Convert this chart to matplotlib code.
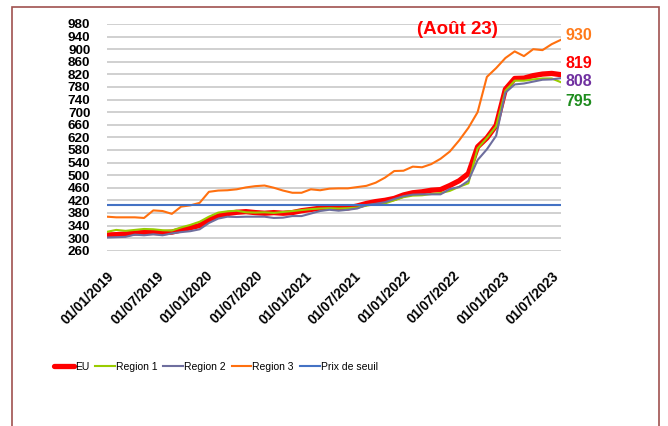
import matplotlib
matplotlib.use("Agg")
import matplotlib.pyplot as plt
from matplotlib.patches import Rectangle
import numpy as np

# ---- data ----
tick_labels = ["01/01/2019", "01/07/2019", "01/01/2020", "01/07/2020", "01/01/2021",
               "01/07/2021", "01/01/2022", "01/07/2022", "01/01/2023", "01/07/2023"]

eu = [310, 311, 313, 316, 318, 318, 317, 319, 326, 333,
      340, 358, 370, 378, 382, 384, 381, 379, 381, 379,
      381, 387, 391, 395, 400, 395, 396, 402, 410, 416,
      420, 426, 437, 444, 447, 452, 454, 467, 482, 505,
      590, 618, 658, 773, 807, 808, 816, 821, 823, 819]
region1 = [320, 326, 323, 326, 329, 328, 325, 324, 334, 342,
           352, 368, 381, 385, 387, 382, 381, 382, 380, 383,
           386, 389, 392, 394, 395, 394, 395, 397, 403, 408,
           410, 420, 430, 435, 436, 440, 443, 450, 463, 474,
           585, 618, 655, 768, 800, 800, 804, 807, 807, 795]
region2 = [302, 303, 304, 311, 309, 312, 309, 315, 319, 322,
           328, 348, 362, 368, 367, 368, 368, 368, 364, 365,
           370, 370, 378, 386, 390, 387, 390, 394, 405, 409,
           414, 424, 433, 438, 439, 439, 439, 456, 462, 482,
           548, 582, 625, 762, 788, 791, 797, 803, 804, 808]
region3 = [368, 366, 366, 366, 364, 388, 386, 377, 400, 404,
           412, 447, 451, 452, 455, 461, 465, 467, 460, 451,
           444, 444, 455, 452, 457, 458, 458, 462, 466, 476,
           492, 513, 514, 527, 525, 535, 552, 575, 610, 650,
           700, 812, 840, 872, 893, 878, 900, 897, 916, 930]
seuil = [406] * len(eu)

end_labels = ["930", "819", "808", "795"]
title_note = "(Août 23)"

# ---- figure ----
W, H = 668, 426
fig = plt.figure(figsize=(W / 100, H / 100), dpi=100)
fig.patch.set_facecolor("white")

ax = fig.add_axes([107 / W, 1 - 250.7 / H, (561 - 107) / W, (250.7 - 24) / H])
x = np.arange(len(eu))

ax.plot(x, eu, color="#FF0000", lw=3.8, solid_capstyle="round", zorder=3, label="EU")
ax.plot(x, region1, color="#99CC00", lw=1.5, zorder=4, label="Region 1")
ax.plot(x, region2, color="#6E6E9E", lw=1.5, zorder=5, label="Region 2")
ax.plot(x, region3, color="#FF700F", lw=1.5, zorder=6, label="Region 3")
ax.plot(x, seuil, color="#4472C4", lw=1.5, zorder=7, label="Prix de seuil")

ax.set_xlim(0, len(eu) - 1)
ax.set_ylim(260, 980)
ax.set_yticks(np.arange(260, 981, 40))
ax.grid(axis="y", color="#D0D0D0", lw=1.4, zorder=0)
ax.set_axisbelow(True)
for s in ax.spines.values():
    s.set_visible(False)
ax.tick_params(axis="both", length=0)
ax.tick_params(axis="y", pad=12)
for lab in ax.get_yticklabels():
    lab.set_fontfamily("Liberation Sans")
    lab.set_fontweight("bold")
    lab.set_fontsize(9.7)

# date labels every six months (spacing on the category index)
tick_pos = np.arange(len(tick_labels)) * 48 / 9
ax.set_xticks(tick_pos)
ax.set_xticklabels(tick_labels, rotation=45, ha="right",
                   rotation_mode="anchor", fontfamily="Liberation Sans",
                   fontweight="bold", fontsize=9.8)
ax.tick_params(axis="x", pad=13)

# annotations
fig.text(457 / W, 1 - 30 / H, title_note, color="#FF0000", fontsize=13.5,
         fontweight="bold", fontfamily="Liberation Sans", ha="center", va="center")
label_colors = ["#FF7A1A", "#FF0000", "#7030A0", "#1E8C1E"]
label_y = [35, 64, 82, 102]
for t, c, yy in zip(end_labels, label_colors, label_y):
    fig.text(565 / W, 1 - yy / H, t, color=c, fontsize=11.5, fontweight="bold",
             fontfamily="Liberation Sans", ha="left", va="center")

# legend
leg = fig.legend(loc="center", bbox_to_anchor=(216 / W, 1 - 367 / H), ncol=5,
                 frameon=False, handlelength=1.9, handletextpad=0.1,
                 columnspacing=0.55,
                 prop={"family": "Liberation Sans", "size": 7.5})

# outer frame
fig.patches.append(Rectangle((12.5 / W, -0.05), (659 - 12.5) / W, 1.05 - 7 / H,
                             transform=fig.transFigure, fill=False,
                             edgecolor="#A0524F", lw=1.2))

fig.savefig("out.png", dpi=100)
